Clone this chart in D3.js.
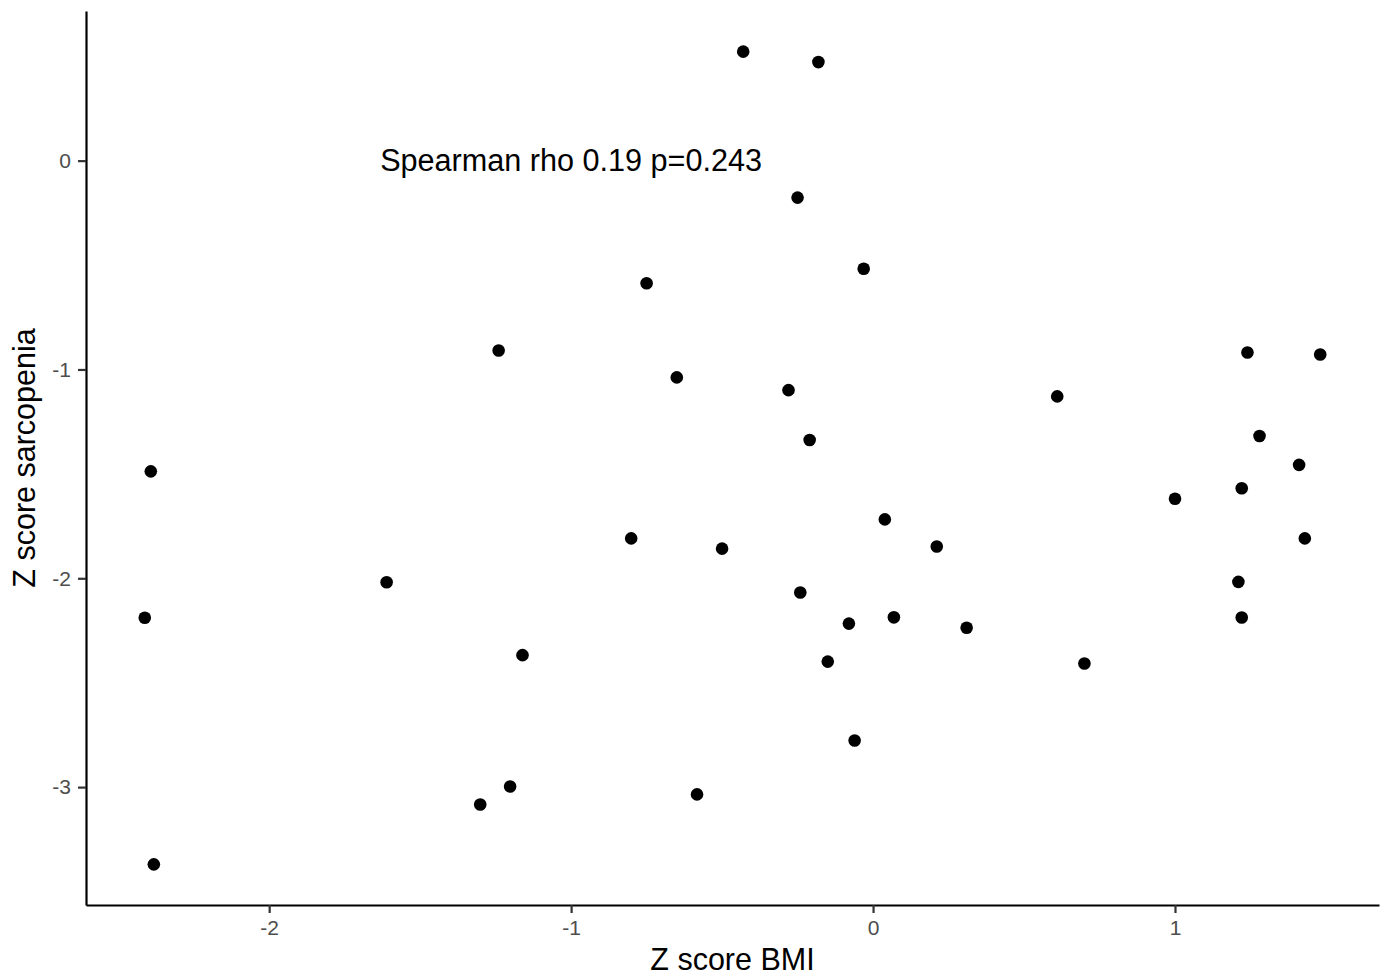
<!DOCTYPE html>
<html>
<head>
<meta charset="utf-8">
<script src="https://cdn.jsdelivr.net/npm/d3@7"></script>
<style>
  html, body { margin: 0; padding: 0; background: #fff; }
  svg text { font-family: "Liberation Sans", Arial, Helvetica, sans-serif; }
  .tick text { font-size: 21px; }
</style>
</head>
<body>
<div id="chart"></div>
<script>
// values
var bmiZ = [-0.430, -0.181, -0.250, -0.031, -0.750, -1.240, -0.650, -0.280, -0.210, -2.392,
  1.240, 1.481, 0.610, 1.280, 1.411, 1.221, 1.000, 1.430, 0.039, -0.801,
  -0.500, 0.211, -1.611, 1.210, -2.412, -0.241, -0.080, 0.069, 0.310, 1.221,
  -1.161, -0.150, 0.700, -0.061, -1.202, -1.301, -0.583, -2.382];
var sarcZ = [0.522, 0.472, -0.177, -0.518, -0.587, -0.909, -1.038, -1.099, -1.338, -1.488,
  -0.919, -0.928, -1.129, -1.319, -1.457, -1.569, -1.619, -1.809, -1.718, -1.809,
  -1.858, -1.848, -2.019, -2.017, -2.189, -2.068, -2.217, -2.187, -2.237, -2.188,
  -2.368, -2.399, -2.408, -2.777, -2.997, -3.083, -3.035, -3.370];
var xTicks = [-2, -1, 0, 1];
var yTicks = [0, -1, -2, -3];
var xTitle = "Z score BMI";
var yTitle = "Z score sarcopenia";
var note = "Spearman rho 0.19 p=0.243";
var noteAt = [-1, 0];

var width = 1390;
var height = 978;
var margin = {top: 11, right: 11, bottom: 73, left: 86};

var points = bmiZ.map((x, i) => ({x: x, y: sarcZ[i]}));

// ggplot-like 5% expansion
function expand(ext) {
  var pad = (ext[1] - ext[0]) * 0.05;
  return [ext[0] - pad, ext[1] + pad];
}

var x = d3.scaleLinear()
  .domain(expand(d3.extent(bmiZ)))
  .range([margin.left, width - margin.right]);
var y = d3.scaleLinear()
  .domain(expand(d3.extent(sarcZ)))
  .range([height - margin.bottom, margin.top]);

var svg = d3.select("#chart").append("svg")
  .attr("width", width)
  .attr("height", height);

// x axis
var gx = svg.append("g")
  .attr("transform", "translate(0," + (height - margin.bottom) + ")")
  .call(d3.axisBottom(x).tickValues(xTicks).tickFormat(d => String(d))
    .tickSizeInner(8).tickSizeOuter(0).tickPadding(7));

// y axis
var gy = svg.append("g")
  .attr("transform", "translate(" + margin.left + ",0)")
  .call(d3.axisLeft(y).tickValues(yTicks).tickFormat(d => String(d))
    .tickSizeInner(8).tickSizeOuter(0).tickPadding(7));

[gx, gy].forEach(g => {
  g.attr("font-size", 21).attr("font-family", "Liberation Sans, Arial, sans-serif");
  g.select(".domain").attr("stroke", "#000").attr("stroke-width", 2.2);
  g.selectAll(".tick line").attr("stroke", "#333").attr("stroke-width", 2.2);
  g.selectAll(".tick text")
    .attr("fill", "#4d4d4d")
    .attr("font-size", 21);
});

// axis titles
svg.append("text")
  .attr("x", (margin.left + width - margin.right) / 2)
  .attr("y", 970)
  .attr("text-anchor", "middle")
  .attr("fill", "#000")
  .style("font-size", "30.5px")
  .text(xTitle);

svg.append("text")
  .attr("transform", "translate(35," + (margin.top + height - margin.bottom) / 2 + ") rotate(-90)")
  .attr("text-anchor", "middle")
  .attr("fill", "#000")
  .style("font-size", "30.5px")
  .text(yTitle);

// points
svg.append("g")
  .selectAll("circle")
  .data(points)
  .enter()
  .append("circle")
  .attr("cx", d => x(d.x))
  .attr("cy", d => y(d.y))
  .attr("r", 6.3)
  .attr("fill", "#000");

// correlation note
svg.append("text")
  .attr("x", x(noteAt[0]))
  .attr("y", y(noteAt[1]))
  .attr("dy", "0.35em")
  .attr("text-anchor", "middle")
  .attr("fill", "#000")
  .style("font-size", "30.6px")
  .text(note);
</script>
</body>
</html>
